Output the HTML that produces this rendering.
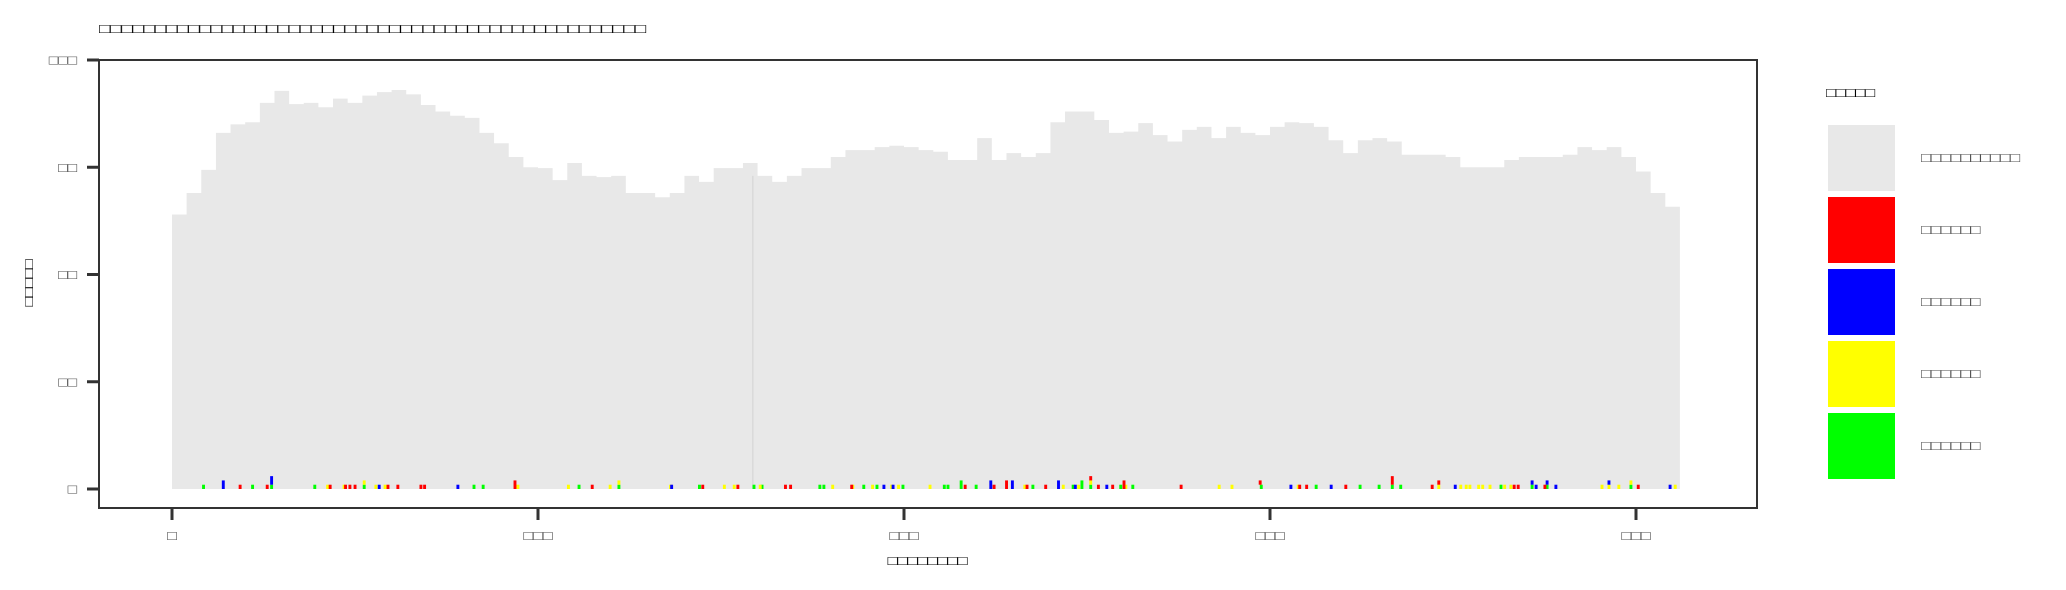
<!DOCTYPE html>
<html><head><meta charset="utf-8">
<style>
html,body{margin:0;padding:0;background:#fff;}
svg{display:block;font-family:"Liberation Sans","DejaVu Sans","Noto Sans CJK SC",sans-serif;}
</style></head>
<body>
<svg id="chart" width="2066" height="590" viewBox="0 0 2066 590" xmlns="http://www.w3.org/2000/svg">
  <rect x="0" y="0" width="2066" height="590" fill="#fff"/>
  <text x="99" y="33" font-size="13" fill="#000" textLength="547" lengthAdjust="spacingAndGlyphs">□□□□□□□□□□□□□□□□□□□□□□□□□□□□□□□□□□□□□□□□□□□□□□□□□</text>
  <g id="plot"></g>
  <rect x="99" y="60" width="1658" height="448" fill="none" stroke="#333" stroke-width="2"/>
  <g id="yaxis"></g>
  <g id="xaxis"></g>
  <text x="927.5" y="565" font-size="13" fill="#000" text-anchor="middle" textLength="80" lengthAdjust="spacingAndGlyphs">□□□□□□□□</text>
  <text transform="translate(33,283) rotate(-90)" font-size="13" fill="#000" text-anchor="middle" textLength="47" lengthAdjust="spacingAndGlyphs">□□□□□</text>
  <g id="legend">
    <text x="1826" y="97" font-size="13" fill="#000" textLength="49" lengthAdjust="spacingAndGlyphs">□□□□□</text>
  </g>
</svg>
<script>
const coverage = [64,69,74.4,83,85,85.5,90,92.8,89.7,90,89,91,90,91.7,92.5,93,92,89.5,88,87,86.5,83,80.6,77.4,75,74.8,72,
76,73,72.7,73,69,69,68,69,73,71.6,74.8,74.8,76,73,71.6,73,74.8,74.8,77.4,79,79,79.7,80,79.7,79,78.6,
76.7,76.7,81.8,76.7,78.3,77.4,78.3,85.5,88,88,86,83,83.3,85.3,82.5,81,83.7,84.4,81.8,84.4,83,82.5,84.4,85.5,85.3,84.4,
81.3,78.3,81.3,81.8,81,77.9,77.9,77.9,77.4,75,75,75,76.7,77.4,77.4,77.4,77.9,79.7,79,79.7,77.4,74,69,65.8];
const binWidth = 4;
const yTicks = [0,25,50,75,100];
const yTickLabels = ["□","□□","□□","□□","□□□"];
const xTicks = [0,100,200,300,400];
const xTickLabels = ["□","□□□","□□□","□□□","□□□"];
const redPos = [18.6,26,43.2,47.4,48.6,50,59,61.7,68,69,93.7,114.8,145,154.6,167.6,169,185.7,216.7,224.6,228,233.6,238.7,251,253.1,257,260.1,275.7,297.3,308.1,310,320.7,333.4,344.3,346.1,366.7,367.8,375.1,400.6];
const redCount = [1,1,1,1,1,1,1,1,1,1,2,1,1,1,1,1,1,1,1,2,1,1,1,1,1,2,1,1,1,1,1,2,1,1,1,1,1,1];
const bluePos = [14,27.2,56.6,78.1,136.5,197,194.5,223.7,229.6,242.2,246.8,255.4,305.7,316.7,350.6,371.6,372.7,375.7,378.1,392.6,409.3];
const blueCount = [2,2,1,1,1,1,1,2,2,2,1,1,1,1,1,1,1,1,1,1,1];
const yellowPos = [42.5,47,52.5,55.7,58.2,94.5,108.3,119.7,122.1,136.2,150.9,153.6,160.7,180.5,186,191.4,196.6,198.5,207.1,233,243.5,247.7,251,260.6,286.1,289.6,307.7,346.1,352.1,353.6,354.6,357,358.1,360.1,364.1,365.8,390.7,392.6,395.3,398.6,410.7];
const greenPos = [8.6,22,27.2,39,52.5,82.5,85,111.2,122.1,144.1,159,161.2,177,178.1,189,192.6,199.7,211,212,215.6,219.7,235.2,246.2,248.6,251,259.2,262.5,297.6,312.6,324.6,329.8,333.4,335.7,363.1,371.6,375.7,398.6];
const greenCount = [1,1,1,1,1,1,1,1,1,1,1,1,1,1,1,1,1,1,1,2,1,1,1,2,1,1,1,1,1,1,1,1,1,1,1,1,1];
const legendLabels = ["□□□□□□□□□□","□□□□□□","□□□□□□","□□□□□□","□□□□□□"];
const legendColors = ["#e8e8e8","#ff0000","#0000ff","#ffff00","#00ff00"];

const NS = "http://www.w3.org/2000/svg";
function xS(u){ return 172 + u * 3.66; }
function yS(v){ return 489 - v * 4.29; }
function mk(tag, attrs, parent){ const e = document.createElementNS(NS, tag); for (const k in attrs) e.setAttribute(k, attrs[k]); parent.appendChild(e); return e; }

const plot = document.getElementById('plot');
// coverage step area
let d = "M" + xS(0) + "," + yS(0);
coverage.forEach((v, i) => { d += " L" + xS(i * binWidth) + "," + yS(v) + " L" + xS((i + 1) * binWidth) + "," + yS(v); });
d += " L" + xS(coverage.length * binWidth) + "," + yS(0) + " Z";
const area = mk('path', {d: d, fill: '#e8e8e8'}, plot);


const ref = mk('line', {x1: xS(158.7), x2: xS(158.7), y1: yS(73), y2: yS(0), stroke: '#d2d2d2', 'stroke-width': 1}, plot);



// stacked marks: green, yellow, blue, red
const stack = {};
function keyOf(p){ return Math.round(p * 2) / 2; }
function drawMarks(pos, counts, color, name){
  pos.forEach((p, i) => {
    const c = counts ? counts[i] : 1;
    const k = keyOf(p);
    const base = stack[k] || 0;
    const r = mk('rect', {x: xS(p) - 1.4, width: 2.9, y: yS(base + c), height: yS(base) - yS(base + c), fill: color}, plot);
    
    
    stack[k] = base + c;
  });
}
drawMarks(greenPos, greenCount, '#00ff00', 'green-mark');
drawMarks(yellowPos, null, '#ffff00', 'yellow-mark');
drawMarks(bluePos, blueCount, '#0000ff', 'blue-mark');
drawMarks(redPos, redCount, '#ff0000', 'red-mark');

const yax = document.getElementById('yaxis');
yTicks.forEach((t, i) => {
  const tk = mk('line', {x1: 87, x2: 99, y1: yS(t), y2: yS(t), stroke: '#333', 'stroke-width': 3}, yax);
  
  
  const n = yTickLabels[i].length;
  const lb = mk('text', {x: 77, y: yS(t) + 4.5, 'font-size': 13, fill: '#4d4d4d', 'text-anchor': 'end', textLength: n * 9.4, lengthAdjust: 'spacingAndGlyphs'}, yax);
  lb.textContent = yTickLabels[i];
  
  
});
const xax = document.getElementById('xaxis');
xTicks.forEach((t, i) => {
  const tk = mk('line', {x1: xS(t), x2: xS(t), y1: 508, y2: 520, stroke: '#333', 'stroke-width': 3}, xax);
  
  
  const n = xTickLabels[i].length;
  const lb = mk('text', {x: xS(t), y: 540, 'font-size': 13, fill: '#4d4d4d', 'text-anchor': 'middle', textLength: n * 9.7, lengthAdjust: 'spacingAndGlyphs'}, xax);
  lb.textContent = xTickLabels[i];
  
  
});
const leg = document.getElementById('legend');
legendLabels.forEach((l, i) => {
  const y0 = 125 + i * 72;
  const key = mk('rect', {x: 1828, y: y0, width: 67, height: 66, fill: legendColors[i]}, leg);
  
  
  const lb = mk('text', {x: 1921, y: y0 + 37, 'font-size': 13, fill: '#4d4d4d', textLength: l.length * 9.9, lengthAdjust: 'spacingAndGlyphs'}, leg);
  lb.textContent = l;
  
  
});
</script>
</body></html>
